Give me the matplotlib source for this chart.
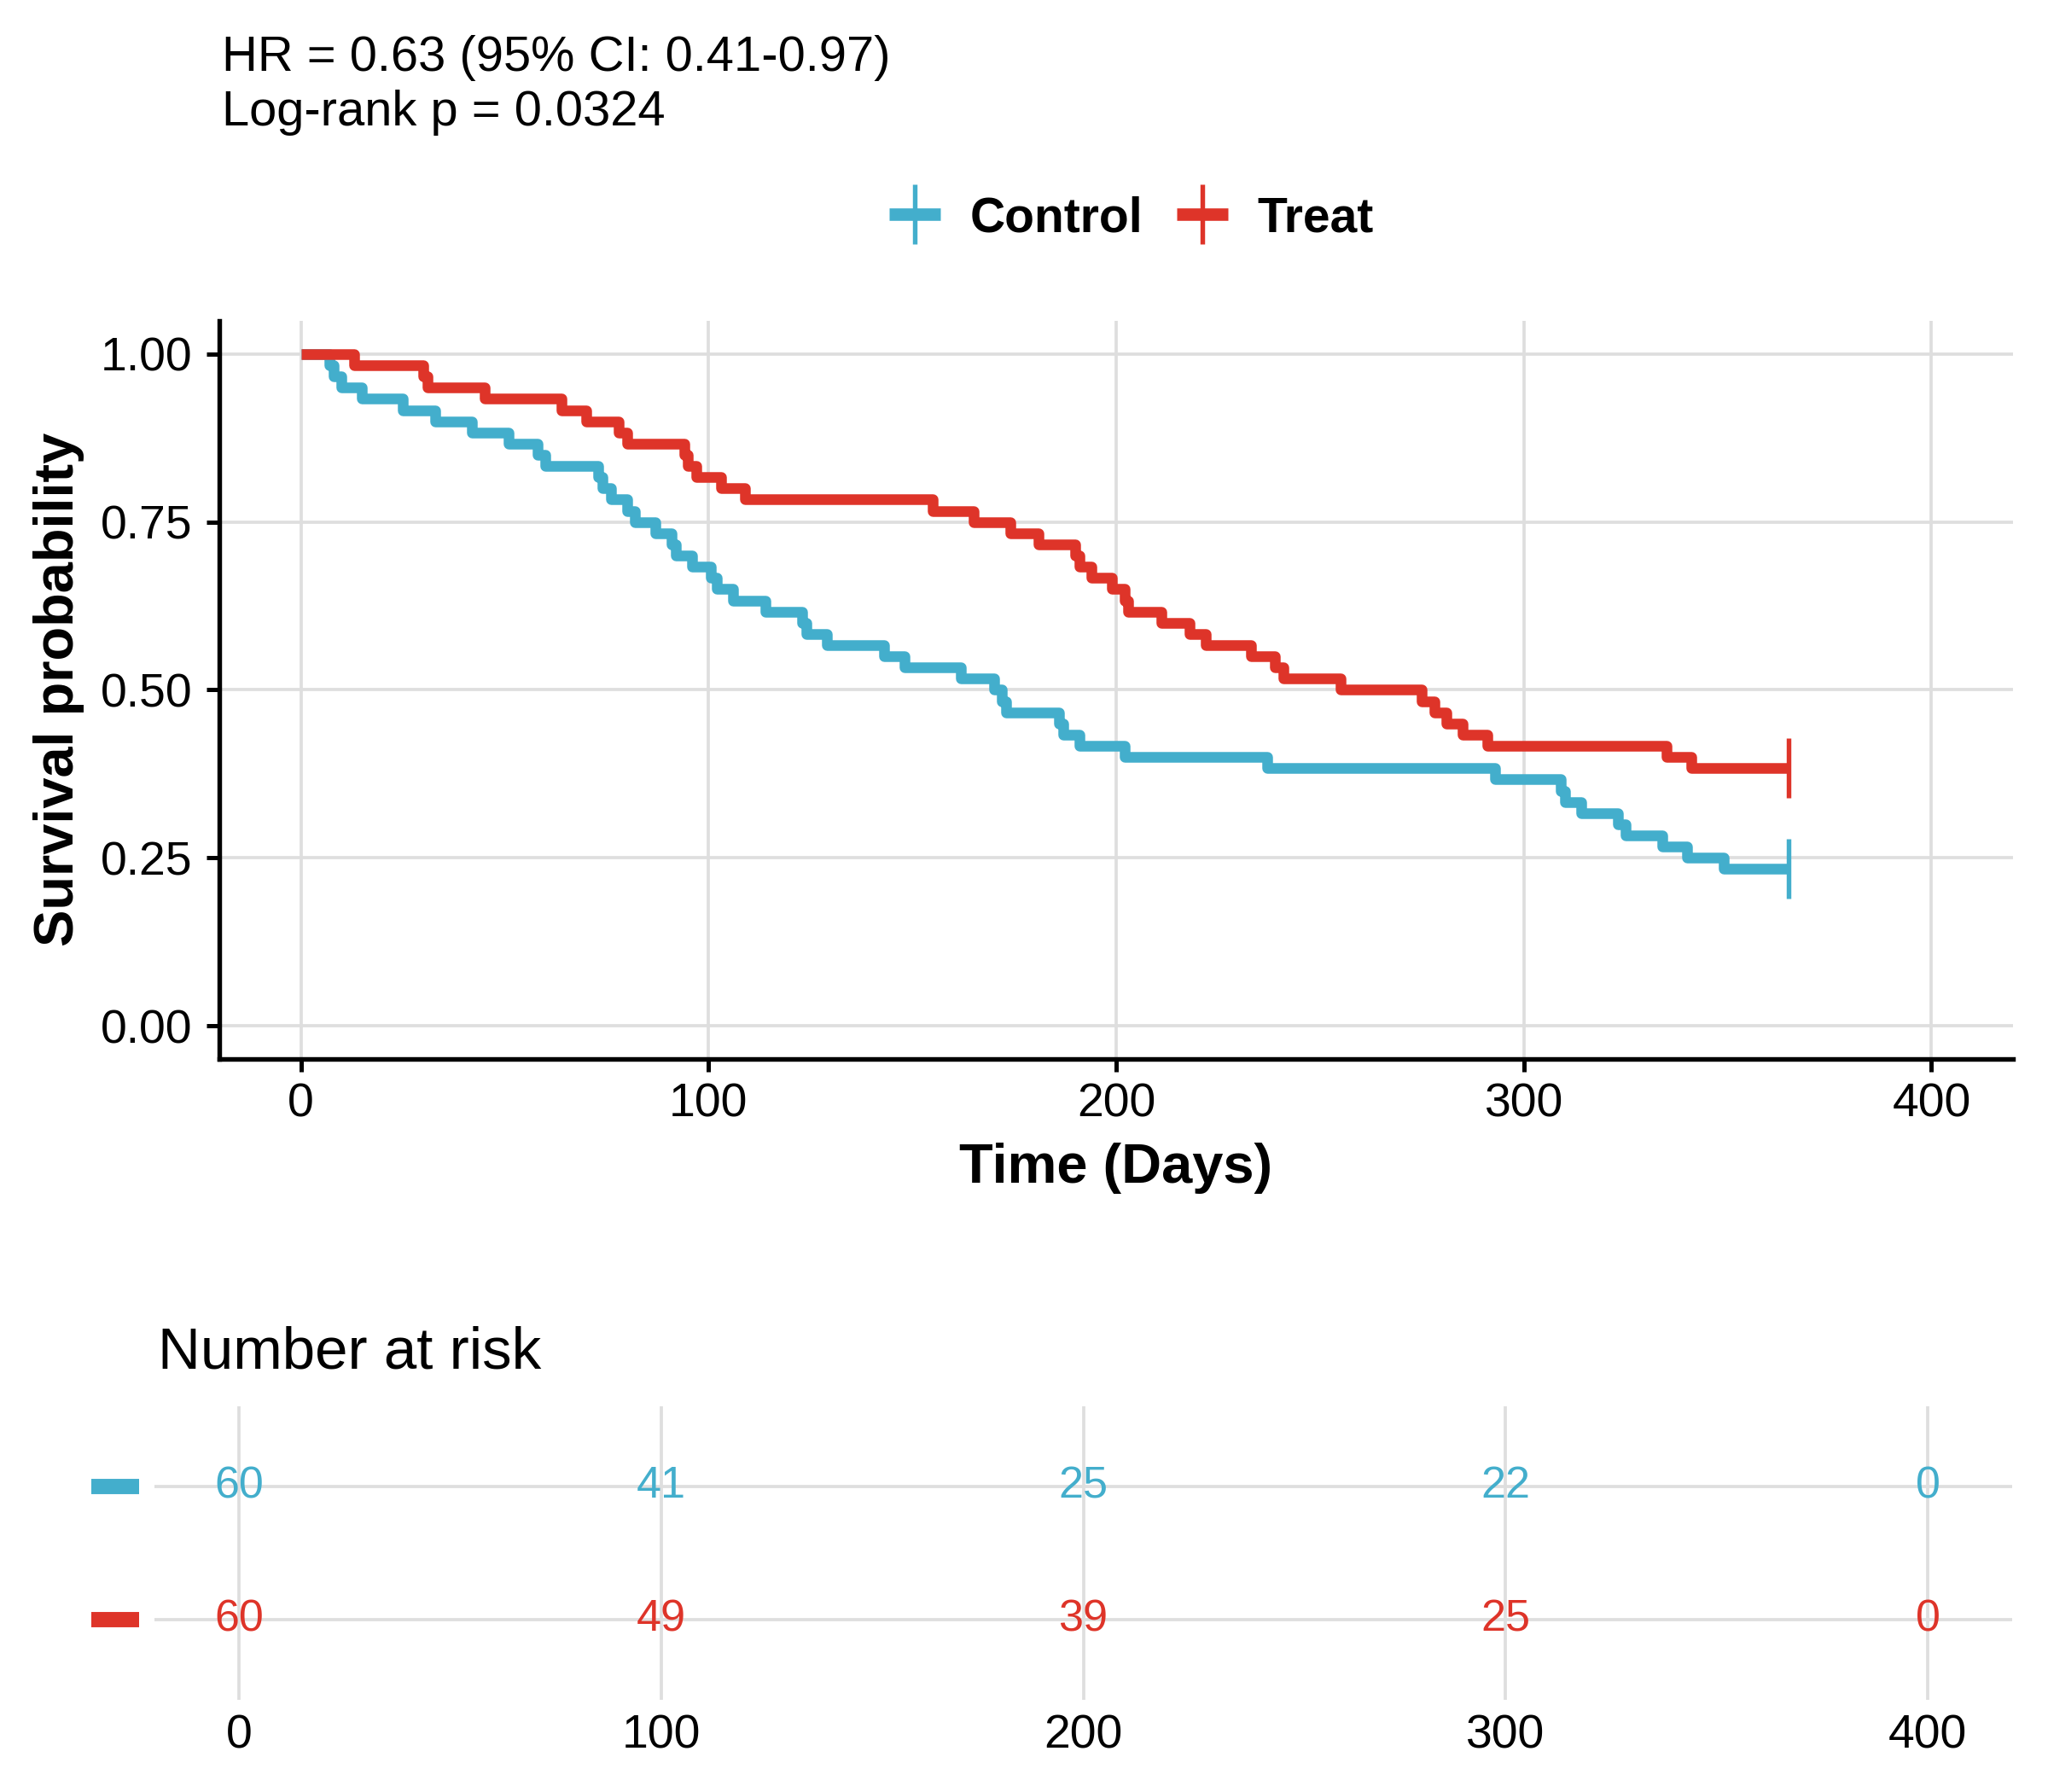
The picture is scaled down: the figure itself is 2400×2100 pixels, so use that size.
import numpy as np
import matplotlib
matplotlib.use("Agg")
import matplotlib.pyplot as plt
from matplotlib.lines import Line2D
import matplotlib.transforms as mtransforms

plt.rcParams['font.family'] = ['Liberation Sans', 'DejaVu Sans']

# Event (death) times, one entry per event; all others censored at day 365
n_control = 60
n_treat = 60
control_events = [7, 8, 10, 15, 25, 33, 42, 51, 58, 60, 73, 74, 76, 80, 82, 87, 91, 92, 96,
                  100.5, 102, 106, 114, 123, 124, 129, 143, 148, 162, 170, 172, 173, 186, 187,
                  191, 202, 237, 293, 309, 310, 314, 323, 325, 334, 340, 349]
treat_events = [13, 30, 31, 45, 64, 70, 78, 80, 94, 95, 97, 103, 109, 155, 165, 174, 181, 190,
                191, 194, 199, 202, 203, 211, 218, 222, 233, 239, 241, 255, 275, 278, 281, 285,
                291, 335, 341]
end_time = 365

# Number at risk table
risk_times = [0, 100, 200, 300, 400]
control_risk = [60, 41, 25, 22, 0]
treat_risk = [60, 49, 39, 25, 0]

groups = ['Control', 'Treat']
colors = {'Control': '#43AECC', 'Treat': '#DE3429'}

hr_text = 'HR = 0.63 (95% CI: 0.41-0.97)'
p_text = 'Log-rank p = 0.0324'


def km_steps(events, n, t_end):
    ev = np.sort(np.array(events, dtype=float))
    surv = 1 - np.arange(1, len(ev) + 1) / n
    t = np.concatenate([[0], ev, [t_end]])
    s = np.concatenate([[1.0], surv, [surv[-1]]])
    return t, s


fig = plt.figure(figsize=(8, 7), dpi=300)
W, H = 2400, 2100
ax = fig.add_axes([257 / W, 1 - 1241.4 / H, (2359 - 257) / W, (1241.4 - 375.6) / H])
ax_r = fig.add_axes([181 / W, 1 - 1992 / H, (2358 - 181) / W, (1992 - 1648) / H])

grid_col = '#DEDEDE'

# Survival curves
curves = {'Control': km_steps(control_events, n_control, end_time),
          'Treat': km_steps(treat_events, n_treat, end_time)}
for g in groups:
    t, s = curves[g]
    ax.step(t, s, where='post', color=colors[g], lw=3.0, solid_joinstyle='round',
            solid_capstyle='butt', zorder=3)
    ax.plot([t[-1]], [s[-1]], marker='|', markersize=17, markeredgewidth=1.3,
            color=colors[g], zorder=4)

ax.set_xlim(-20, 420)
ax.set_ylim(-0.05, 1.05)
ax.set_xticks([0, 100, 200, 300, 400])
ax.set_yticks([0, 0.25, 0.5, 0.75, 1.0])
ax.set_yticklabels(['0.00', '0.25', '0.50', '0.75', '1.00'])
ax.grid(True, color=grid_col, lw=0.9, zorder=0)
ax.set_axisbelow(True)
for side in ['top', 'right']:
    ax.spines[side].set_visible(False)
for side in ['left', 'bottom']:
    ax.spines[side].set_linewidth(1.3)
ax.tick_params(axis='both', labelsize=13.3, width=1.2, length=3.5, colors='black')
ax.tick_params(axis='x', pad=3)
ax.tick_params(axis='y', pad=4)
ax.set_xlabel('Time (Days)', fontsize=15.6, fontweight='bold', labelpad=4.5)
fig.text(69 / W, 1 - 808 / H, 'Survival probability', rotation=90, ha='center', va='center',
         fontsize=15.6, fontweight='bold')

# Annotation
fig.text(260 / W, 1 - 83 / H, hr_text, fontsize=13.9, va='baseline', ha='left')
fig.text(260 / W, 1 - 147 / H, p_text, fontsize=13.9, va='baseline', ha='left')

# Legend
handles = [Line2D([0], [0], color=colors[g], lw=3.5, marker='|', markersize=17,
                  markeredgewidth=1.3, solid_capstyle='butt') for g in groups]
leg = fig.legend(handles, groups, loc='center', bbox_to_anchor=(1326 / W, 1 - 256 / H),
                 ncol=2, frameon=False, handlelength=1.05, handletextpad=0.6,
                 columnspacing=0.7, numpoints=1, prop={'size': 13.7, 'weight': 'bold'})

# Risk table
rows = {'Control': 2, 'Treat': 1}
risks = {'Control': control_risk, 'Treat': treat_risk}
ax_r.set_xlim(-20, 420)
ax_r.set_ylim(0.4, 2.6)
ax_r.set_xticks(risk_times)
ax_r.set_yticks([rows[g] for g in groups])
ax_r.set_yticklabels([])
ax_r.grid(True, color=grid_col, lw=0.9, zorder=0)
for side in ax_r.spines:
    ax_r.spines[side].set_visible(False)
ax_r.tick_params(axis='both', length=0, labelsize=13.3, pad=4)
for g in groups:
    for tt, nr in zip(risk_times, risks[g]):
        ax_r.text(tt, rows[g], str(nr), color=colors[g], fontsize=12.5, ha='center',
                  va='center', zorder=3)
    trans = mtransforms.blended_transform_factory(ax_r.transAxes, ax_r.transData)
    ax_r.plot([-0.034, -0.0083], [rows[g], rows[g]], color=colors[g], lw=4.3,
              solid_capstyle='butt', transform=trans, clip_on=False)
fig.text(185 / W, 1 - 1604 / H, 'Number at risk', fontsize=16.6, va='baseline', ha='left')

fig.savefig('out.png', dpi=300)
